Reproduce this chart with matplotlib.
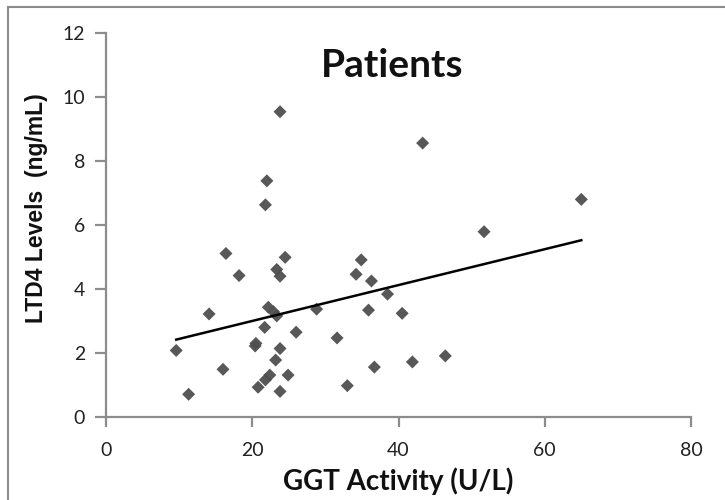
import numpy as np
import matplotlib
matplotlib.use("Agg")
import matplotlib.pyplot as plt
from matplotlib.lines import Line2D

# GGT activity (U/L) and LTD4 levels (ng/mL)
ggt = [9.6, 11.3, 14.1, 16.0, 16.4, 18.2, 20.4, 20.5, 20.8, 21.8,
       21.7, 21.8, 22.0, 22.4, 22.2, 22.9, 23.35, 23.2, 23.35, 23.8,
       23.8, 23.8, 23.8, 24.5, 24.9, 26.0, 28.8, 31.6, 33.0, 34.2,
       34.9, 35.9, 36.3, 36.7, 38.5, 40.5, 41.9, 43.3, 46.4, 51.7, 65.0]
ltd4 = [2.08, 0.71, 3.22, 1.49, 5.11, 4.42, 2.22, 2.30, 0.93, 1.16,
        2.80, 6.63, 7.38, 1.31, 3.43, 3.29, 3.16, 1.78, 4.61, 4.40,
        2.14, 0.80, 9.54, 4.99, 1.31, 2.65, 3.37, 2.47, 0.98, 4.46,
        4.91, 3.34, 4.25, 1.56, 3.84, 3.24, 1.72, 8.56, 1.91, 5.79, 6.80]

x_ticks = [0, 20, 40, 60, 80]
y_ticks = [0, 2, 4, 6, 8, 10, 12]

W, H = 725, 500
fig = plt.figure(figsize=(W/100, H/100), dpi=100)
ax = fig.add_axes([106/W, 1-417/H, (691-106)/W, (417-33)/H])

ax.scatter(ggt, ltd4, marker="D", s=44, color="#4f4f4f", alpha=0.95,
           edgecolors="none", zorder=3)

# linear trend line fitted to the data
slope, intercept = np.polyfit(ggt, ltd4, 1)
xs = np.array([min(ggt), max(ggt)])
ax.plot(xs, slope*xs + intercept, color="black", lw=1.8, zorder=4)

ax.set_xlim(0, 80)
ax.set_ylim(0, 12)
ax.set_xticks(x_ticks)
ax.set_yticks(y_ticks)

tick_font = dict(family="Lato", size=14, color="#222222")
ax.set_xticklabels([str(t) for t in x_ticks], **tick_font)
ax.set_yticklabels([str(t) for t in y_ticks], **tick_font)

for s in ["top", "right"]:
    ax.spines[s].set_visible(False)
for s in ["left", "bottom"]:
    ax.spines[s].set_color("#8c8c8c")
    ax.spines[s].set_linewidth(1.6)
ax.tick_params(axis="both", direction="out", color="#8c8c8c", width=1.6)
ax.tick_params(axis="y", length=8, pad=7)
ax.tick_params(axis="x", length=7, pad=11)

fig.text(398/W, 1-490/H, "GGT Activity (U/L)", family="Lato", fontweight="bold",
         fontsize=20, ha="center", va="baseline", color="#111111")
fig.text(42.7/W, 1-208/H, "LTD4 Levels  (ng/mL)", family="Liberation Sans",
         fontweight="bold", fontsize=16.5, rotation=90, rotation_mode="anchor",
         ha="center", va="baseline", color="#111111")
fig.text(392/W, 1-76.7/H, "Patients", family="Lato", fontweight="bold",
         fontsize=28, ha="center", va="baseline", color="#111111")

# outer frame (left and top edges visible)
fig.add_artist(Line2D([8/W, 8/W], [0, 1-7/H], transform=fig.transFigure,
                      color="#8c8c8c", lw=1.5))
fig.add_artist(Line2D([8/W, 1], [1-7/H, 1-7/H], transform=fig.transFigure,
                      color="#8c8c8c", lw=1.5))

fig.savefig("out.png", dpi=100)
